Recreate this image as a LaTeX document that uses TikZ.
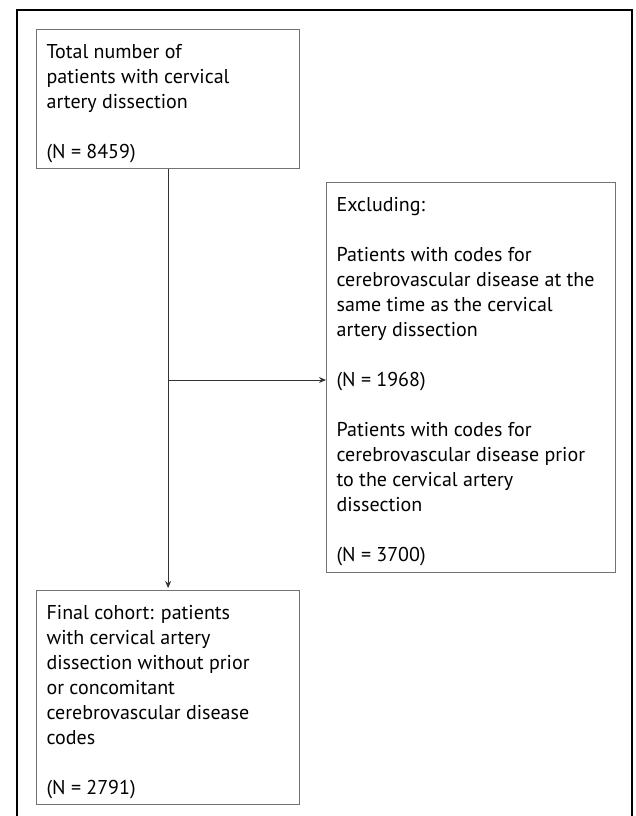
\documentclass[tikz,border=0pt]{standalone}
\usepackage{fontspec}
\setmainfont{PT Sans}
\usetikzlibrary{arrows.meta,positioning}

\begin{document}
\begin{tikzpicture}[x=1pt,y=-1pt,
  every node/.style={font=\fontsize{20}{25}\selectfont},
  flowbox/.style={draw=black!55,line width=1.2pt,anchor=north west,inner xsep=10pt,inner ysep=11pt},
  link/.style={draw=black!80,line width=1pt,-{Stealth[length=7pt,width=6pt]}}]
\useasboundingbox (0,0) rectangle (635,816);
\draw[line width=1.6pt] (17,816)--(17,10)--(632,10)--(632,816);
\node[flowbox] (total) at (36,29) {\parbox[t][117pt][t]{243pt}{\raggedright\strut Total number of\\patients with cervical\\artery dissection\\[25pt](N = 8459)}};
\node[flowbox] (excl) at (326,182) {\parbox[t][368pt][t]{269pt}{\raggedright\strut Excluding:\\[25pt]Patients with codes for\\cerebrovascular disease at the\\same time as the cervical\\artery dissection\\[25pt](N = 1968)\\[25pt]Patients with codes for\\cerebrovascular disease prior\\to the cervical artery\\dissection\\[25pt](N = 3700)}};
\node[flowbox] (final) at (36,590) {\parbox[t][192pt][t]{243pt}{\raggedright\strut Final cohort: patients\\with cervical artery\\dissection without prior\\or concomitant\\cerebrovascular disease\\codes\\[25pt](N = 2791)}};
\coordinate (split) at (total.south |- 0,380);
\draw[link,shorten >=2pt] (total.south)--(final.north);
\draw[link] (split)--(split -| excl.west);
\end{tikzpicture}
\end{document}
